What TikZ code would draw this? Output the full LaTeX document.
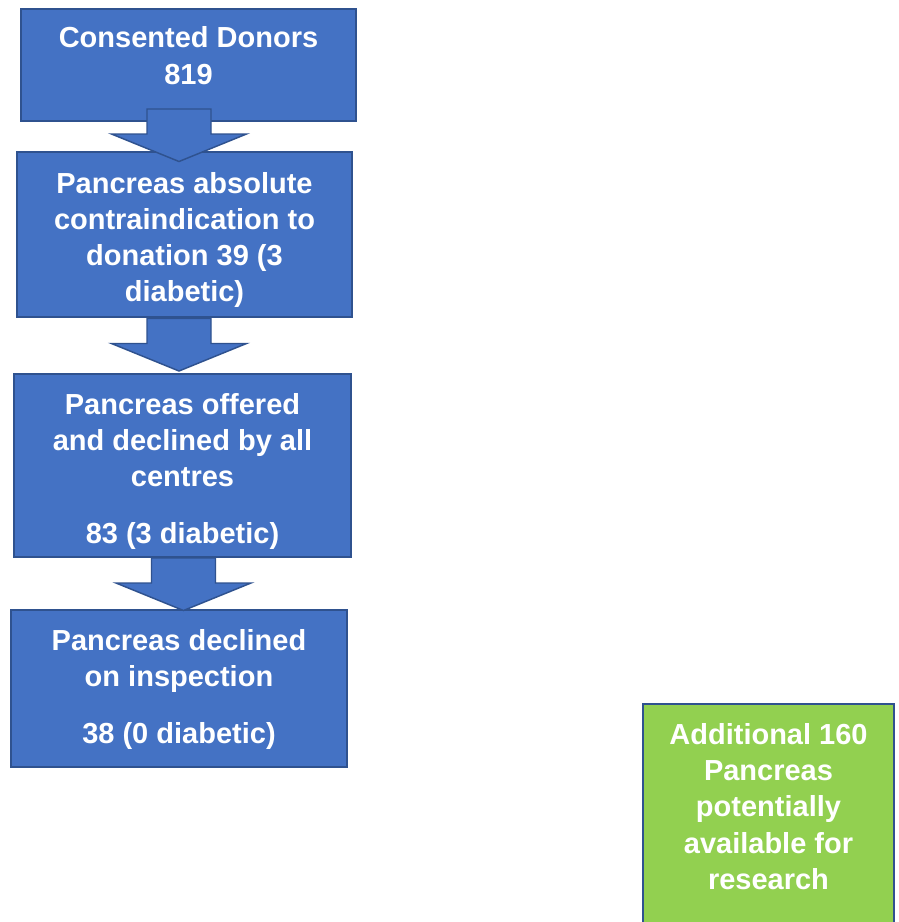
\documentclass[tikz,border=0pt]{standalone}
\usepackage{fontspec}
\setmainfont{Liberation Sans}
\usepackage{tikz}
\usepackage{xcolor}
\usetikzlibrary{calc}
\definecolor{boxfillc}{HTML}{4472C4}
\definecolor{boxlinec}{HTML}{2F528F}
\definecolor{greenfillc}{HTML}{92D050}
\colorlet{textc}{white}
\tikzstyle{flowbox} = [
    draw=boxlinec,
    fill=boxfillc,
    line width=1.5pt,
    rectangle,
    inner sep=0pt
    ]
\tikzstyle{flowtext} = [
    text=textc,
    font=\bfseries\fontsize{21.75}{27.2}\selectfont,
    align=center,
    inner sep=0pt
    ]
\tikzstyle{blockarrow} = [
    draw=boxlinec,
    fill=boxfillc,
    line width=1.1pt,
    line join=miter
    ]
\newcommand{\downblock}[1]{% block arrow, #1 is its centre
\draw[blockarrow] ($#1+(-32,-26)$) -- ($#1+(32,-26)$) -- ($#1+(32,-1)$)
    -- ($#1+(67.5,-1)$) -- ($#1+(0,26.5)$) -- ($#1+(-67.5,-1)$)
    -- ($#1+(-32,-1)$) -- cycle;
}

\begin{document}
\begin{tikzpicture}[x=0.75pt,y=-0.75pt]
\useasboundingbox (0,0) rectangle (899,922);
\clip (0,0) rectangle (899,922);

\node[flowbox, minimum width=251.25pt, minimum height=84pt] (donors) at (188.5,65) {};
\node[flowtext] (donorstext) at (188.5,55.5) {Consented Donors\\819};

\node[flowbox, minimum width=251.25pt, minimum height=123.75pt] (contra) at (184.5,234.5) {};
\node[flowtext] (contratext) at (184.5,240)
    {Pancreas absolute\\contraindication to\\donation 39 (3\\diabetic)};

\node[flowbox, minimum width=252.75pt, minimum height=137.25pt] (offered) at (182.5,465.5) {};
\node[flowtext] (offeredtext) at (182.5,471.5)
    {Pancreas offered\\and declined by all\\centres\\[15.75pt]83 (3 diabetic)};

\node[flowbox, minimum width=252pt, minimum height=117.75pt] (inspect) at (179,688.5) {};
\node[flowtext] (inspecttext) at (179,689.5)
    {Pancreas declined\\on inspection\\[16pt]38 (0 diabetic)};

\node[flowbox, fill=greenfillc, minimum width=188.25pt, minimum height=187.5pt] (research) at (768.5,829) {};
\node[flowtext] (researchtext) at (768.5,806.5)
    {Additional 160\\Pancreas\\potentially\\available for\\research};

% block arrows between the boxes
\coordinate (a1) at ($(donors.south)+(-9.5,13)$);
\coordinate (a2) at ($(contra.south)+(-5.5,26.5)$);
\coordinate (a3) at ($(offered.south)+(1,26)$);
\downblock{(a1)}
\downblock{(a2)}
\downblock{(a3)}
\end{tikzpicture}
\end{document}
